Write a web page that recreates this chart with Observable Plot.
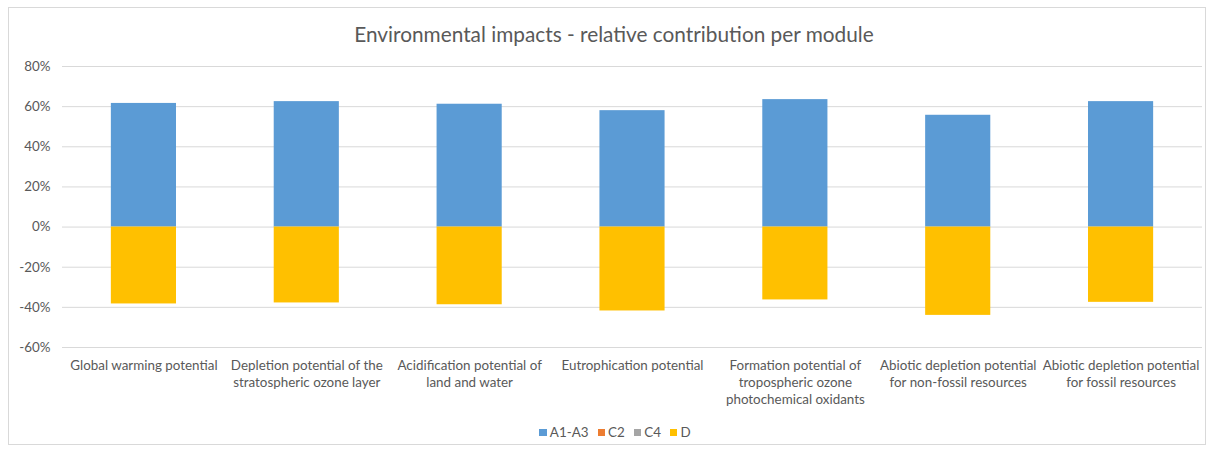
<!DOCTYPE html>
<html>
<head>
<meta charset="utf-8">
<script src="https://cdn.jsdelivr.net/npm/d3@7"></script>
<script src="https://cdn.jsdelivr.net/npm/@observablehq/plot@0.6"></script>
<style>
  html, body { margin: 0; padding: 0; background: #fff; }
  #wrap { position: relative; width: 1214px; height: 450px; font-family: Lato, "Open Sans", sans-serif; }
  #frame { position: absolute; left: 8px; top: 7px; width: 1198px; height: 438px; border: 1px solid #d9d9d9; box-sizing: border-box; }
  #title { position: absolute; left: 0; width: 1228px; top: 21px; text-align: center; font-size: 20.8px; color: #595959; }
  #chart { position: absolute; left: 0; top: 0; }
  #legend { position: absolute; left: 8px; width: 1214px; top: 424px; display: flex; justify-content: center; gap: 9px; font-size: 13.4px; color: #595959; }
  #legend span.sw { display: inline-block; width: 7.5px; height: 7.5px; margin-right: 3px; vertical-align: 1px; }
</style>
</head>
<body>
<div id="wrap">
  <div id="frame"></div>
  <div id="title">Environmental impacts - relative contribution per module</div>
  <div id="chart"></div>
  <div id="legend"></div>
</div>
<script>
const categories = [
  "Global warming potential",
  "Depletion potential of the\nstratospheric ozone layer",
  "Acidification potential of\nland and water",
  "Eutrophication potential",
  "Formation potential of\ntropospheric ozone\nphotochemical oxidants",
  "Abiotic depletion potential\nfor non-fossil resources",
  "Abiotic depletion potential\nfor fossil resources"
];
const seriesNames = ["A1-A3", "C2", "C4", "D"];
const seriesColors = ["#5B9BD5", "#ED7D31", "#A5A5A5", "#FFC000"];
const valuesA1A3 = [61.6, 62.5, 61.2, 58.0, 63.5, 55.7, 62.5];
const valuesC2   = [0, 0, 0, 0, 0, 0, 0];
const valuesC4   = [0, 0, 0, 0, 0, 0, 0];
const valuesD    = [-38.3, -37.8, -38.7, -41.8, -36.3, -44.0, -37.5];
const yTicks = [-60, -40, -20, 0, 20, 40, 60, 80];

const seriesValues = [valuesA1A3, valuesC2, valuesC4, valuesD];
const data = [];
categories.forEach((c, i) => {
  seriesNames.forEach((s, j) => data.push({category: c, series: s, value: seriesValues[j][i]}));
});

const chart = Plot.plot({
  width: 1214,
  height: 450,
  marginTop: 66,
  marginBottom: 103,
  marginLeft: 62,
  marginRight: 12,
  style: {fontFamily: "Lato, 'Open Sans', sans-serif", fontSize: "13.4px", color: "#595959", background: "transparent", overflow: "visible"},
  x: {domain: categories, paddingInner: 0.6, paddingOuter: 0.3, round: false, label: null},
  y: {domain: [-60, 80], label: null},
  color: {domain: seriesNames, range: seriesColors},
  marks: [
    Plot.ruleY(yTicks, {stroke: "#d9d9d9", strokeWidth: 1}),
    Plot.barY(data, {x: "category", y: "value", fill: "series", order: seriesNames}),
    Plot.axisY({ticks: yTicks, tickSize: 0, tickPadding: 12, tickFormat: d => d + "%", fill: "#595959", fontSize: 13.4}),
    Plot.axisX({tickSize: 0, tickPadding: 6, fill: "#595959", fontSize: 13.4, lineHeight: 1.25, textAnchor: "middle", dy: 5})
  ]
});
document.getElementById("chart").appendChild(chart);

const legend = document.getElementById("legend");
seriesNames.forEach((s, j) => {
  const item = document.createElement("span");
  item.innerHTML = `<span class="sw" style="background:${seriesColors[j]}"></span>${s}`;
  legend.appendChild(item);
});
</script>
</body>
</html>
